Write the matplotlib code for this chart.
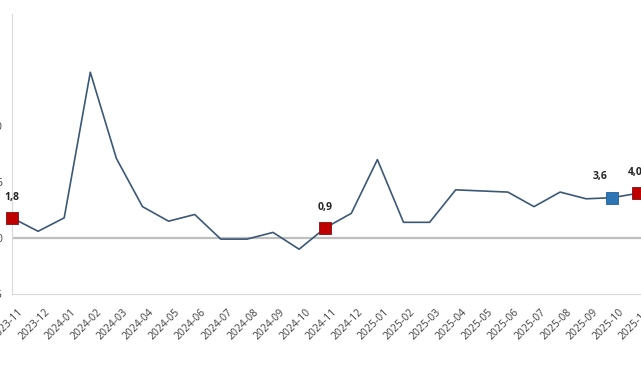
import matplotlib.pyplot as plt
from matplotlib.transforms import ScaledTranslation

# aylar ve aylik degisim (%)
months = ['2023-11', '2023-12', '2024-01', '2024-02', '2024-03', '2024-04',
          '2024-05', '2024-06', '2024-07', '2024-08', '2024-09', '2024-10',
          '2024-11', '2024-12', '2025-01', '2025-02', '2025-03', '2025-04',
          '2025-05', '2025-06', '2025-07', '2025-08', '2025-09', '2025-10',
          '2025-11']
values = [1.8, 0.6, 1.8, 14.8, 7.1, 2.8, 1.5, 2.1, -0.1, -0.1, 0.5, -1.0,
          0.9, 2.2, 7.0, 1.4, 1.4, 4.3, 4.2, 4.1, 2.8, 4.1, 3.5, 3.6, 4.0]

# isaretli noktalar: (ay, etiket, renk, etiket kaydirma x)
marked = [('2023-11', '1,8', '#c00000', 0),
          ('2024-11', '0,9', '#c00000', 0),
          ('2025-10', '3,6', '#2e75b6', -9),
          ('2025-11', '4,0', '#c00000', -2)]

plt.rcParams['font.family'] = ['Open Sans', 'DejaVu Sans']

W, H = 641, 380
fig = plt.figure(figsize=(W / 100, H / 100), dpi=100)
left, top, bottom = 12, 14, 294
ax = fig.add_axes([left / W, (H - bottom) / H, 24.5 * 26.1 / W, (bottom - top) / H])

x = list(range(len(months)))
ax.axhline(0, color='#bfbfbf', linewidth=1.6, zorder=1)
ax.plot(x, values, color='#3b5876', linewidth=1.2, zorder=2)

for m, lab, col, dx in marked:
    i = months.index(m)
    ax.plot(i, values[i], marker='s', markersize=9, color=col,
            markeredgecolor='#7f1010' if col == '#c00000' else '#1f5f99',
            markeredgewidth=0.6, zorder=3, clip_on=False)
    ax.annotate(lab, (i, values[i]), xytext=(dx, 11), textcoords='offset points',
                ha='center', va='bottom', fontsize=7.5, fontweight='bold',
                color='#262626', annotation_clip=False)

ax.set_xlim(0, 24.5)
ax.set_ylim(-5, 20)
ax.set_yticks([-5, 0, 5, 10])
ax.set_xticks(x)
ax.set_xticklabels(months, rotation=45, ha='right', rotation_mode='anchor',
                   fontsize=7.5, color='#404040')
ax.tick_params(axis='both', length=0, labelcolor='#404040')
ax.tick_params(axis='y', labelsize=7.5, pad=7)
ax.tick_params(axis='x', pad=9)
shift = ScaledTranslation(6 / 100, 0, fig.dpi_scale_trans)
for t in ax.get_xticklabels():
    t.set_transform(t.get_transform() + shift)

for s in ['top', 'right']:
    ax.spines[s].set_visible(False)
for s in ['left', 'bottom']:
    ax.spines[s].set_color('#d9d9d9')
    ax.spines[s].set_linewidth(0.8)

fig.savefig('out.png', dpi=100)
